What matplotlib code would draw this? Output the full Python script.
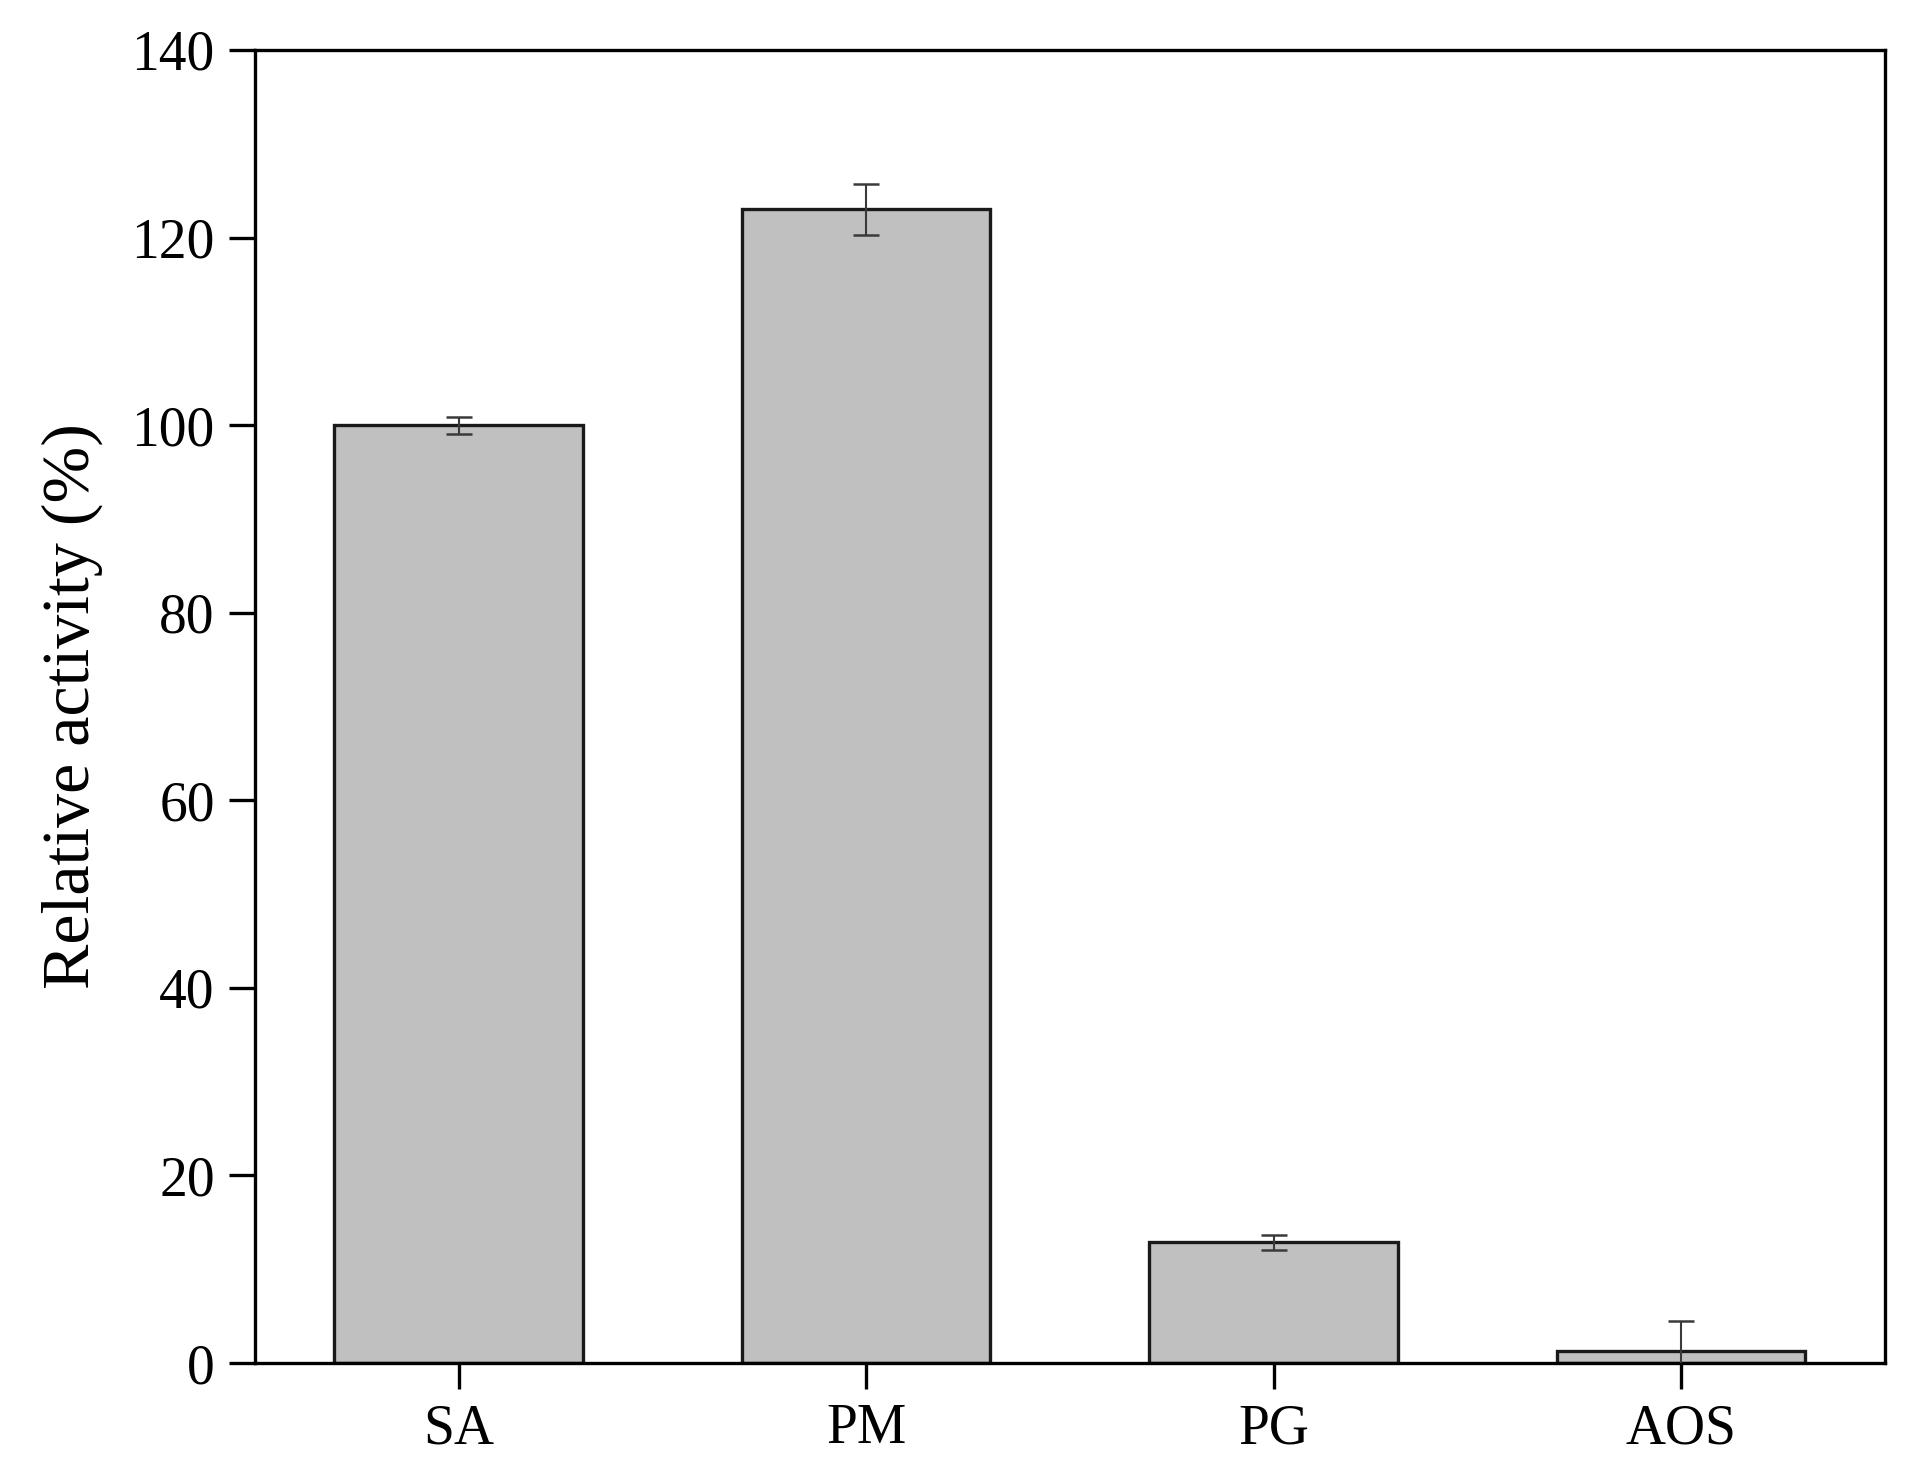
import matplotlib
matplotlib.use('Agg')
import matplotlib.pyplot as plt
import numpy as np

plt.rcParams['font.family'] = ['Liberation Serif', 'DejaVu Serif']

categories = ['SA', 'PM', 'PG', 'AOS']
activity = [100.0, 123.0, 12.9, 1.3]
activity_err = [0.9, 2.7, 0.8, 3.2]

fig = plt.figure(figsize=(19.23, 14.79), dpi=100)
ax = fig.add_axes([0.1326, 0.0784, 0.8476, 0.8878])

x = np.arange(len(categories))
ax.bar(x, activity, width=0.61, color='#c0c0c0', edgecolor='#1a1a1a',
       linewidth=2.4, zorder=2)
ax.errorbar(x, activity, yerr=activity_err, fmt='none', ecolor='#3a3a3a',
            elinewidth=1.5, capsize=9.5, capthick=1.8, zorder=3)

ax.set_xlim(-0.5, 3.5)
ax.set_ylim(0, 140)
ax.set_yticks(np.arange(0, 141, 20))
ax.set_xticks(x)
ax.set_xticklabels(categories)
ax.set_ylabel('Relative activity (%)', fontsize=49)
ax.yaxis.set_label_coords(-0.093, 0.5)

for s in ax.spines.values():
    s.set_linewidth(2.4)
ax.tick_params(axis='both', direction='out', length=19, width=2.4,
               labelsize=40, pad=10)

fig.savefig('out.png', dpi=100)
